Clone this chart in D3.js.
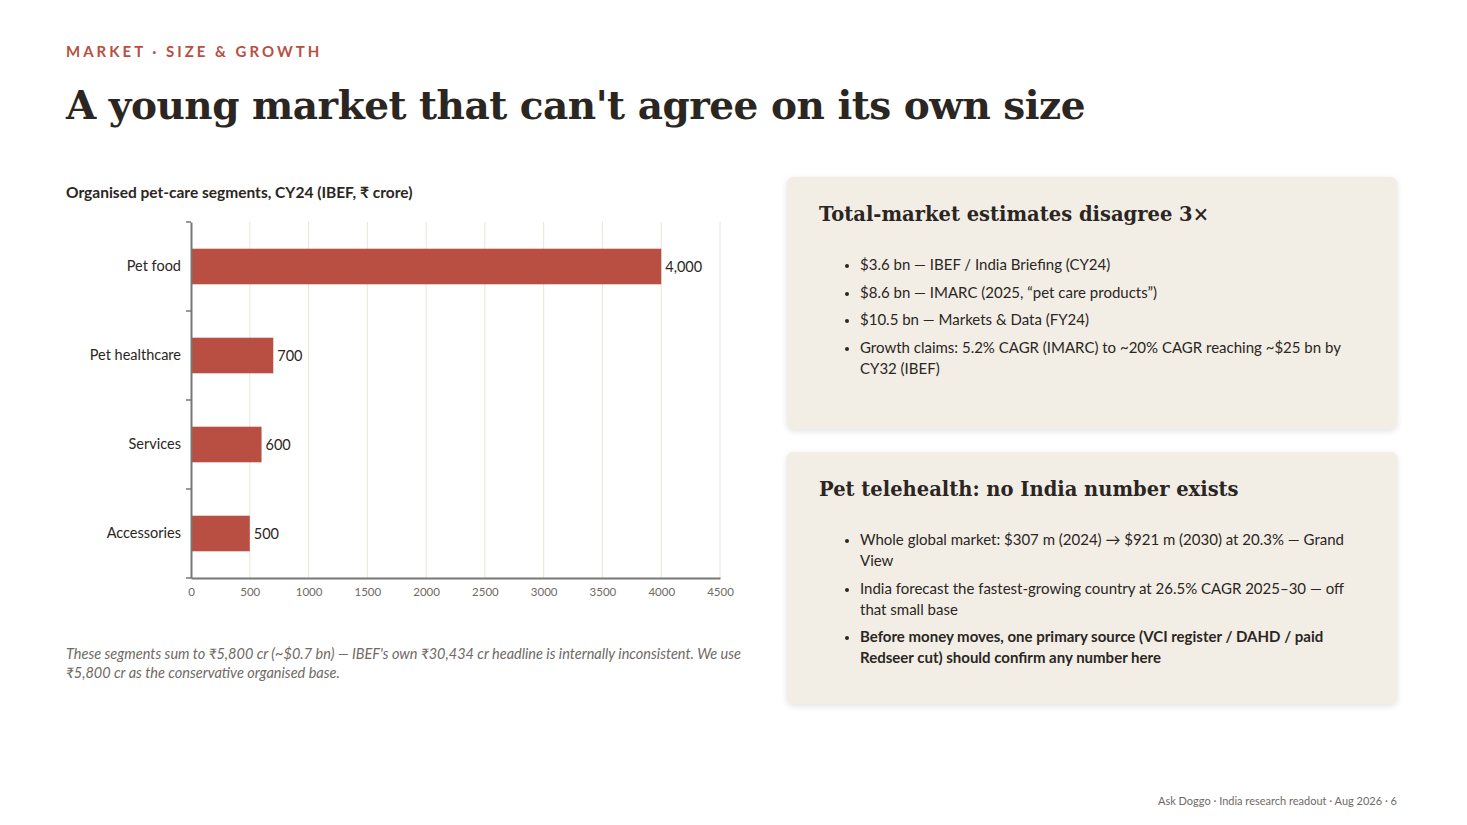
<!DOCTYPE html>
<html><head><meta charset="utf-8">
<script src="https://cdn.jsdelivr.net/npm/d3@7"></script>
<style>
body{margin:0;background:#fff;font-family:Lato,sans-serif;color:#2b2622;width:1467px;height:825px;position:relative;overflow:hidden}
.kick{position:absolute;left:66px;top:42px;font-size:15px;font-weight:700;letter-spacing:3px;color:#b94f42}
h1{position:absolute;left:66px;top:82px;margin:0;font-family:"DejaVu Serif",serif;font-weight:700;font-size:39px;letter-spacing:-0.5px;color:#2b2622}
.ct{position:absolute;left:66px;top:183px;font-size:15.5px;font-weight:700}
.note{position:absolute;left:66px;top:644px;font-size:14.5px;font-style:italic;color:#6f6a64;line-height:19px;width:690px}
.card{position:absolute;left:787px;width:610px;height:252px;background:#f2eee6;border-radius:6px;box-shadow:0 2px 6px rgba(0,0,0,0.12);box-sizing:border-box;padding:26px 32px}
.card h3{margin:0 0 28px 0;font-family:"DejaVu Serif",serif;font-size:19.5px;font-weight:700}
.card ul{margin:0;padding-left:41px;font-size:15px;line-height:21px}
.card li{margin-bottom:6.5px}
.card li::marker{font-size:13px}
.foot{position:absolute;right:70px;top:794px;font-size:11px;color:#6f6a64}
</style></head><body>
<div class="kick">MARKET · SIZE &amp; GROWTH</div>
<h1>A young market that can't agree on its own size</h1>
<div class="ct">Organised pet-care segments, CY24 (IBEF, ₹ crore)</div>
<svg id="chart" width="760" height="430" style="position:absolute;left:0;top:200px"></svg>
<div class="note">These segments sum to ₹5,800 cr (~$0.7 bn) — IBEF's own ₹30,434 cr headline is internally inconsistent. We use ₹5,800 cr as the conservative organised base.</div>
<div class="card" style="top:177px"><h3>Total-market estimates disagree 3×</h3><ul>
<li>$3.6 bn — IBEF / India Briefing (CY24)</li>
<li>$8.6 bn — IMARC (2025, “pet care products”)</li>
<li>$10.5 bn — Markets &amp; Data (FY24)</li>
<li>Growth claims: 5.2% CAGR (IMARC) to ~20% CAGR reaching ~$25 bn by CY32 (IBEF)</li></ul></div>
<div class="card" style="top:452px"><h3>Pet telehealth: no India number exists</h3><ul>
<li>Whole global market: $307 m (2024) → $921 m (2030) at 20.3% — Grand View</li>
<li>India forecast the fastest-growing country at 26.5% CAGR 2025–30 — off that small base</li>
<li style="font-weight:700">Before money moves, one primary source (VCI register / DAHD / paid Redseer cut) should confirm any number here</li></ul></div>
<div class="foot">Ask Doggo · India research readout · Aug 2026 · 6</div>
<script>
var segments = ['Pet food', 'Pet healthcare', 'Services', 'Accessories']
var values = [4000, 700, 600, 500]
var ticks = [0, 500, 1000, 1500, 2000, 2500, 3000, 3500, 4000, 4500]

var svg = d3.select('#chart')
var x = d3.scaleLinear().domain([0, 4500]).range([191, 720])
var y = d3.scaleBand().domain(segments).range([22, 378]).paddingInner(0.6).paddingOuter(0.3)

svg.selectAll('.grid').data(ticks.slice(1)).enter().append('line')
  .attr('x1', d => x(d)).attr('x2', d => x(d)).attr('y1', 22).attr('y2', 378)
  .attr('stroke', '#e8e4d8').attr('stroke-width', 1)

svg.selectAll('.bar').data(values).enter().append('rect')
  .attr('x', x(0)).attr('y', (d, i) => y(segments[i]))
  .attr('width', d => x(d) - x(0)).attr('height', y.bandwidth())
  .attr('fill', '#b94f42')

svg.selectAll('.lbl').data(values).enter().append('text')
  .attr('x', d => x(d) + 4).attr('y', (d, i) => y(segments[i]) + y.bandwidth() / 2)
  .attr('dy', '0.35em').attr('font-size', 14.5).attr('fill', '#2b2622')
  .text(d => d3.format(',')(d))

var xa = svg.append('g').attr('transform', 'translate(0,378)')
  .call(d3.axisBottom(x).tickValues(ticks).tickFormat(d3.format('d')).tickSizeOuter(0).tickSize(0))
xa.selectAll('text').attr('font-size', 11.5).attr('fill', '#6f6a64').attr('font-family', 'Lato').attr('dy', '1.3em')
xa.select('.domain').attr('stroke', '#777').attr('stroke-width', 2)

var ya = svg.append('g').attr('transform', 'translate(191,0)')
  .call(d3.axisLeft(y).tickSize(0).tickPadding(10))
ya.selectAll('text').attr('font-size', 14.5).attr('fill', '#2b2622').attr('font-family', 'Lato')
ya.select('.domain').attr('stroke', '#777').attr('stroke-width', 2)
// band boundary ticks on the y axis
var edges = [22, 111, 200, 289, 378]
ya.selectAll('.edge').data(edges).enter().append('line')
  .attr('x1', -5).attr('x2', 0).attr('y1', d => d).attr('y2', d => d).attr('stroke', '#777').attr('stroke-width', 1.5)
</script>
</body></html>
